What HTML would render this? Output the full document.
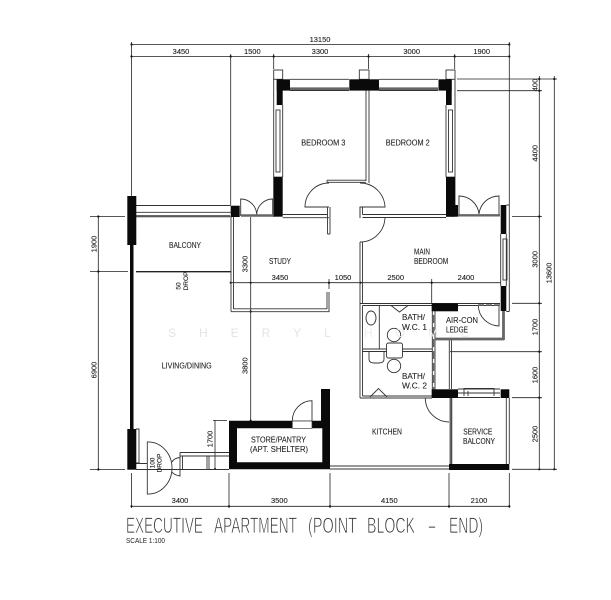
<!DOCTYPE html>
<html><head><meta charset="utf-8">
<style>
html,body{margin:0;padding:0;background:#fff;width:611px;height:600px;overflow:hidden}
svg{display:block;filter:blur(0.3px)}
text{font-family:"Liberation Sans",sans-serif;fill:#222}
.d{font-size:7.5px;text-anchor:middle;dominant-baseline:central;stroke:#222;stroke-width:0.12px}
.l{font-size:8.5px;dominant-baseline:central;stroke:#222;stroke-width:0.1px}
.t{font-size:22px;fill:#333;stroke:#fff;stroke-width:0.7px;paint-order:fill}
</style></head><body>
<svg width="611" height="600" viewBox="0 0 611 600" xmlns="http://www.w3.org/2000/svg">
<rect width="611" height="600" fill="#fff"/>

<!-- dimension lines -->
<g stroke="#222" stroke-width="0.8" fill="none">
<path d="M131.5 44.5H509.5M131.5 56.5H509.5"/>
<path d="M131.5 42V196M230.7 54V205M273.7 54V69M368.5 54V69M454.7 54V69M509.3 42V205"/>
<path d="M98.3 216V469.5M90 216.5H125M90 271.5H128M90 469.5H125"/>
<path d="M539.3 76V469.5M554.3 76V469.5"/>
<path d="M457 79H557M457 90.7H542M512 216.5H542M512 303.3H542M450 351.7H542M512 397.7H542M512 469.3H557"/>
<path d="M131.5 473V508M229 473V508M330 473V508M449 473V508M509.3 473V508M131.5 506.3H509.3"/>
<path d="M230.7 282.7H501M329 279V289M431.7 279V303"/>
<path d="M250.7 217V421"/>
<path d="M215 420V469.5M213 420.5H227"/>
</g>
<!-- dimension ticks -->
<g fill="#111">
<circle cx="131.5" cy="44.5" r="1.1"/><circle cx="509.3" cy="44.5" r="1.1"/>
<circle cx="131.5" cy="56.5" r="1.1"/><circle cx="230.7" cy="56.5" r="1.1"/><circle cx="273.7" cy="56.5" r="1.1"/><circle cx="368.5" cy="56.5" r="1.1"/><circle cx="454.7" cy="56.5" r="1.1"/><circle cx="509.3" cy="56.5" r="1.1"/>
<circle cx="98.3" cy="216.5" r="1.1"/><circle cx="98.3" cy="271.5" r="1.1"/><circle cx="98.3" cy="469.5" r="1.1"/>
<circle cx="539.3" cy="79" r="1.1"/><circle cx="539.3" cy="90.7" r="1.1"/><circle cx="539.3" cy="216.5" r="1.1"/><circle cx="539.3" cy="303.3" r="1.1"/><circle cx="539.3" cy="351.7" r="1.1"/><circle cx="539.3" cy="397.7" r="1.1"/><circle cx="539.3" cy="469.3" r="1.1"/>
<circle cx="554.3" cy="79" r="1.1"/><circle cx="554.3" cy="469.3" r="1.1"/>
<circle cx="131.5" cy="506.3" r="1.1"/><circle cx="229" cy="506.3" r="1.1"/><circle cx="330" cy="506.3" r="1.1"/><circle cx="449" cy="506.3" r="1.1"/><circle cx="509.3" cy="506.3" r="1.1"/>
<circle cx="230.7" cy="282.7" r="1.1"/><circle cx="250.7" cy="282.7" r="1"/><circle cx="329" cy="282.7" r="1.1"/><circle cx="360.5" cy="282.7" r="1.1"/><circle cx="431.7" cy="282.7" r="1.1"/>
<circle cx="250.7" cy="311.5" r="1.1"/><circle cx="250.7" cy="420.5" r="1"/><circle cx="215" cy="469" r="1"/>
</g>

<!-- outline walls -->
<g stroke="#333" stroke-width="0.9" fill="none">
<rect x="273.7" y="70" width="9" height="9.3" />
<rect x="359.3" y="70" width="9.7" height="9.3"/>
<rect x="446" y="70" width="9" height="9.3"/>
<path d="M273.7 79V217M282.7 105V177"/>
<rect x="276" y="110" width="4" height="62"/>
<path d="M446 105V177M455 79V206"/>
<rect x="448.5" y="110" width="4" height="62"/>
<path d="M290 79.3H349M290 90.5H349M379 79.3H438M379 90.5H438"/>
<path d="M366 90V181M369 90V183"/>
<path d="M282.7 214.5H327.5M282.7 217.7H329M330 207V234M327.5 207V234M327.5 234H330"/>
<path d="M327 180.2H366M327 182.3H366M327 180.2V182.3"/>
<path d="M329 183A24 24 0 0 0 305 207H329"/>
<path d="M360 183A25 25 0 0 1 385 207H360V218"/>
<path d="M362.5 207V214.5M362.5 214.5H446M362.5 217.5H446M360 207V218"/>
<path d="M385 218A25 25 0 0 1 360 242"/>
<path d="M360 242V303M362.5 242V303"/>
<!-- balcony -->
<path d="M136 205.5H230.7M136 212.3H230.7M136 216.8H230.7"/>
<path d="M231 217V311.5M233.5 217V309"/>
<path d="M231 311.7H329.5M233.5 308.8H327M329 292V311.7M327 292V309"/>
<!-- doors -->
<path d="M240.7 216V199A16 16 0 0 1 256.7 215M272.7 216V199A16 16 0 0 0 256.7 215"/>
<path d="M459 216V196A20 20 0 0 1 479 214M499 216V196A20 20 0 0 0 479 214"/>
<!-- main bed right -->
<path d="M506.3 234V286M500.7 234V286M509.3 205V311.5M506.3 205H509.3M506.3 311.5H509.3"/>
<rect x="503" y="239" width="4" height="41"/>
<!-- bathroom -->
<path d="M360 303.5H500M362.5 305.5H432M360 303V398M362.5 305.5V396"/>
<path d="M379.3 305.5V349M362.5 349H432M362.5 351.5H432"/>
<path d="M362.5 396H432M360 398H432"/>
<ellipse cx="371" cy="318" rx="5" ry="7"/>
<circle cx="394" cy="335" r="6.7" fill="#fff"/>
<rect x="386.5" y="343" width="16" height="15" rx="2" fill="#fff"/>
<circle cx="394" cy="366" r="6.7" fill="#fff"/>
<path d="M369 352V359Q369 363 374 363H379Q384 363 384 359V352"/>
<path d="M391 305.5L399.5 312L408 305.5M370 397L378.5 388.5L387 397"/>
<path d="M432.3 303V398M435 311V398"/>
<!-- aircon -->
<path d="M458 305.5H499M499 305V326A21 21 0 0 1 478.3 305"/>
<path d="M449.3 340V389M451.5 340V389"/>
<!-- service balcony -->
<path d="M458 389H500M458 393H500M458 397.5H500M464 388V396M494 388V396M464 388.5H494M468 391V396"/>
<path d="M506.3 398V464M509.3 398V464M451.8 398V464"/>
<path d="M425.3 398A24 24 0 0 0 449 422"/>
<path d="M330 466H449.5M330 469H449.5"/>
<!-- store door -->
<path d="M312 421V400.7A20 20 0 0 0 292.3 421"/>
<!-- lower left -->
<path d="M136 429H139V463H136M136 463.5H147M136 469.5H229"/>
<path d="M147.3 442V494A24 26 0 0 0 172 468A24 26 0 0 0 147.3 442Z"/>
<path d="M172 462Q174 458 180 457.5V476Q174 475 172 472"/>
<path d="M180 452.5H229M180 456H229M180 452.5V458"/>
<path d="M182.5 456V469M207 456V469M209 456V469"/>
</g>
<!-- grey thick -->
<g stroke="#666" fill="none">
<path d="M290 88.7H349M379 88.7H438" stroke-width="2.6"/>
<path d="M241 215.5H273" stroke-width="2.4"/>
<path d="M458 215.3H500" stroke-width="2.4"/>
<path d="M136 215.7H230" stroke-width="1.4"/>
<path d="M435 339H504M503.5 311V340" stroke-width="2.8"/>
<path d="M450.5 398V464" stroke-width="2"/>
<path d="M433.5 315V398" stroke-width="1.5" stroke-dasharray="8 4"/>
<path d="M478 305H500" stroke-width="1.5" stroke-dasharray="6 2"/>
<path d="M136 271.7H231" stroke="#222" stroke-width="1.3"/>
</g>

<!-- solid black -->
<g fill="#0a0a0a">
<rect x="276.7" y="79.3" width="13.3" height="11.3"/>
<rect x="276.7" y="79.3" width="6" height="25.7"/>
<rect x="273.7" y="176.7" width="9" height="40"/>
<rect x="349.3" y="79.3" width="29.7" height="11.3"/>
<rect x="438.5" y="79.3" width="13.2" height="11.3"/>
<rect x="446" y="79.3" width="5.7" height="25.7"/>
<rect x="446" y="176.7" width="9" height="40"/>
<rect x="446" y="205" width="12" height="11.7"/>
<rect x="230.7" y="205.7" width="9" height="11.3"/>
<rect x="127.3" y="196" width="9" height="49"/>
<rect x="130" y="245" width="3.5" height="185"/>
<rect x="127.3" y="429" width="9" height="40.7"/>
<rect x="500.7" y="205" width="5.6" height="29"/>
<rect x="500.7" y="286" width="5.6" height="25"/>
<rect x="431.7" y="303.3" width="26.3" height="8"/>
<rect x="431.7" y="389.3" width="26.3" height="8.7"/>
<rect x="500.7" y="389.3" width="8.6" height="8.7"/>
<rect x="449" y="464" width="60.3" height="6"/>
<rect x="321" y="389" width="9" height="32"/>
<path fill-rule="evenodd" d="M229 420.7H330V469.3H229ZM237 428.3V462.3H322.3V428.3Z"/>
</g>
<rect x="292.3" y="421" width="19.7" height="7.3" fill="#fff"/>
<path d="M292.3 421H312V428.3H292.3Z" fill="none" stroke="#333" stroke-width="0.7"/>

<!-- watermark -->
<text x="168" y="337" style="fill:#e4e4e4;font-size:12px;letter-spacing:23px">SHERYL</text>
<text x="364" y="337" style="fill:#ececec;font-size:12px;letter-spacing:23px">HOME</text>

<!-- dimension text -->
<g class="dims">
<text class="d" x="320" y="39.3">13150</text>
<text class="d" x="181" y="51.3">3450</text>
<text class="d" x="252.3" y="51.3">1500</text>
<text class="d" x="320" y="51.3">3300</text>
<text class="d" x="411.7" y="51.3">3000</text>
<text class="d" x="481.7" y="51.3">1900</text>
<text class="d" transform="translate(535 85) rotate(-90)">400</text>
<text class="d" transform="translate(535 153.3) rotate(-90)">4400</text>
<text class="d" transform="translate(535 259.3) rotate(-90)">3000</text>
<text class="d" transform="translate(535 327) rotate(-90)">1700</text>
<text class="d" transform="translate(535 375) rotate(-90)">1600</text>
<text class="d" transform="translate(535 434) rotate(-90)">2500</text>
<text class="d" transform="translate(549 273) rotate(-90)">13600</text>
<text class="d" transform="translate(94 244) rotate(-90)">1900</text>
<text class="d" transform="translate(94 370) rotate(-90)">6900</text>
<text class="d" transform="translate(245 264) rotate(-90)">3300</text>
<text class="d" transform="translate(245 365.7) rotate(-90)">3800</text>
<text class="d" transform="translate(210 439) rotate(-90)">1700</text>
<text class="d" x="280" y="277.3">3450</text>
<text class="d" x="343" y="277.3">1050</text>
<text class="d" x="395.7" y="277.3">2500</text>
<text class="d" x="466" y="277.3">2400</text>
<text class="d" x="180" y="500.7">3400</text>
<text class="d" x="279.3" y="500.7">3500</text>
<text class="d" x="389.3" y="500.7">4150</text>
<text class="d" x="479" y="500.7">2100</text>
</g>

<!-- room labels -->
<text class="l" x="301.3" y="142.3" textLength="44" lengthAdjust="spacingAndGlyphs">BEDROOM 3</text>
<text class="l" x="385.7" y="142.3" textLength="44" lengthAdjust="spacingAndGlyphs">BEDROOM 2</text>
<text class="l" x="169" y="245" textLength="32" lengthAdjust="spacingAndGlyphs">BALCONY</text>
<text class="l" x="269" y="261" textLength="22" lengthAdjust="spacingAndGlyphs">STUDY</text>
<text class="l" x="161.7" y="365.7" textLength="50" lengthAdjust="spacingAndGlyphs">LIVING/DINING</text>
<text class="l" x="414" y="251.7" textLength="16" lengthAdjust="spacingAndGlyphs">MAIN</text>
<text class="l" x="414" y="261" textLength="34.3" lengthAdjust="spacingAndGlyphs">BEDROOM</text>
<text class="l" x="402" y="317" textLength="23" lengthAdjust="spacingAndGlyphs">BATH/</text>
<text class="l" x="402" y="327" textLength="25" lengthAdjust="spacingAndGlyphs">W.C. 1</text>
<text class="l" x="446" y="320" textLength="32" lengthAdjust="spacingAndGlyphs">AIR-CON</text>
<text class="l" x="446" y="329.5" textLength="22" lengthAdjust="spacingAndGlyphs">LEDGE</text>
<text class="l" x="402" y="376" textLength="23" lengthAdjust="spacingAndGlyphs">BATH/</text>
<text class="l" x="402" y="385.5" textLength="25" lengthAdjust="spacingAndGlyphs">W.C. 2</text>
<text class="l" x="372" y="431.7" textLength="30" lengthAdjust="spacingAndGlyphs">KITCHEN</text>
<text class="l" x="463.3" y="431.7" textLength="29" lengthAdjust="spacingAndGlyphs">SERVICE</text>
<text class="l" x="463" y="441" textLength="32" lengthAdjust="spacingAndGlyphs">BALCONY</text>
<text class="l" x="251" y="439.3" textLength="55" lengthAdjust="spacingAndGlyphs">STORE/PANTRY</text>
<text class="l" x="250" y="449" textLength="58" lengthAdjust="spacingAndGlyphs">(APT. SHELTER)</text>
<text class="d" style="font-size:6.5px" transform="translate(179 286) rotate(-90)">50</text>
<text class="d" style="font-size:6.5px" transform="translate(186.5 281) rotate(-90)">DROP</text>
<text class="d" style="font-size:6.5px" transform="translate(153 463) rotate(-90)">100</text>
<text class="d" style="font-size:6.5px" transform="translate(160 463) rotate(-90)">DROP</text>

<!-- title -->
<text class="t" x="126" y="533" textLength="77" lengthAdjust="spacingAndGlyphs">EXECUTIVE</text>
<text class="t" x="214" y="533" textLength="83" lengthAdjust="spacingAndGlyphs">APARTMENT</text>
<text class="t" x="308" y="533" textLength="49" lengthAdjust="spacingAndGlyphs">(POINT</text>
<text class="t" x="367" y="533" textLength="48" lengthAdjust="spacingAndGlyphs">BLOCK</text>
<text class="t" x="427" y="533" textLength="10" lengthAdjust="spacingAndGlyphs">-</text>
<text class="t" x="449" y="533" textLength="34" lengthAdjust="spacingAndGlyphs">END)</text>
<text x="126" y="543" font-size="7.5" textLength="39" lengthAdjust="spacingAndGlyphs">SCALE 1:100</text>
</svg>
</body></html>
